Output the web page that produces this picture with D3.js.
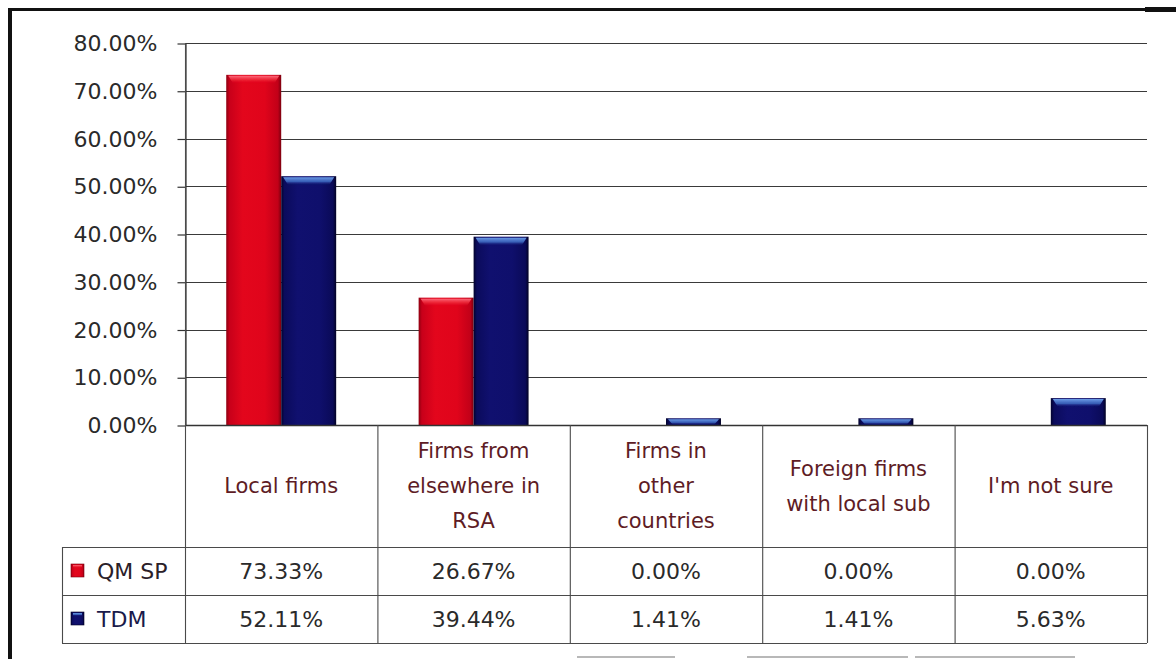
<!DOCTYPE html>
<html>
<head>
<meta charset="utf-8">
<script src="https://cdn.jsdelivr.net/npm/d3@7"></script>
<style>
  html, body { margin: 0; padding: 0; background: #fff; }
  svg { display: block; }
  text { font-family: "DejaVu Sans", sans-serif; }
</style>
</head>
<body>
<svg id="chart" width="1176" height="659"></svg>
<script>
// Where respondents' suppliers come from, by survey group
const categories = [
  ["Local firms"],
  ["Firms from", "elsewhere in", "RSA"],
  ["Firms in", "other", "countries"],
  ["Foreign firms", "with local sub"],
  ["I'm not sure"]
];
const seriesNames = ["QM SP", "TDM"];
const qmspValues = [73.33, 26.67, 0.00, 0.00, 0.00];
const tdmValues = [52.11, 39.44, 1.41, 1.41, 5.63];
const yTicks = [0, 10, 20, 30, 40, 50, 60, 70, 80];

const seriesValues = [qmspValues, tdmValues];
const svg = d3.select("#chart");

// Plot geometry
const plotLeft = 185, plotRight = 1147, plotTop = 43, plotBase = 425;
const headerBottom = 547, row1Bottom = 595, row2Bottom = 643, legendLeft = 62;

const x0 = d3.scaleBand().domain(d3.range(categories.length)).range([plotLeft, plotRight]).padding(0);
const x1 = d3.scaleBand().domain(seriesNames).range([0, x0.bandwidth()]).paddingInner(0).paddingOuter(0.75);
const y = d3.scaleLinear().domain([0, 80]).range([plotBase, plotTop]);

// Gradients for the bevelled bars
const defs = svg.append("defs");
function hGrad(id, stops) {
  const g = defs.append("linearGradient").attr("id", id).attr("x1", 0).attr("x2", 1).attr("y1", 0).attr("y2", 0);
  stops.forEach(s => g.append("stop").attr("offset", s[0]).attr("stop-color", s[1]));
}
function vGrad(id, stops) {
  const g = defs.append("linearGradient").attr("id", id).attr("x1", 0).attr("x2", 0).attr("y1", 0).attr("y2", 1);
  stops.forEach(s => g.append("stop").attr("offset", s[0]).attr("stop-color", s[1]).attr("stop-opacity", s[2] === undefined ? 1 : s[2]));
}
hGrad("redBody", [[0, "#8e0010"], [0.06, "#c8001a"], [0.3, "#e3061c"], [0.7, "#e0041b"], [0.94, "#c20018"], [1, "#7a000e"]]);
hGrad("blueBody", [[0, "#03032e"], [0.06, "#0b0b5c"], [0.3, "#10106f"], [0.7, "#0f0f6c"], [0.94, "#0a0a58"], [1, "#020224"]]);
vGrad("redTop", [[0, "#ff7080", 0.95], [0.5, "#f23040", 0.7], [1, "#e3061c", 0]]);
vGrad("blueTop", [[0, "#6b9be6", 1], [0.55, "#3f6cc4", 0.85], [1, "#10106f", 0]]);
const soft = defs.append("filter").attr("id", "soft").attr("x", "-10%").attr("y", "-10%").attr("width", "120%").attr("height", "120%");
soft.append("feGaussianBlur").attr("stdDeviation", 0.6);

const bodyFill = ["url(#redBody)", "url(#blueBody)"];
const topFill = ["url(#redTop)", "url(#blueTop)"];

// Outer frame
svg.append("rect").attr("x", 8).attr("y", 8).attr("width", 4).attr("height", 651).attr("fill", "#111");
svg.append("rect").attr("x", 8).attr("y", 8).attr("width", 1168).attr("height", 3).attr("fill", "#111");
svg.append("rect").attr("x", 1145).attr("y", 7).attr("width", 31).attr("height", 5).attr("fill", "#111");

// Gridlines
svg.append("g").selectAll("line").data(yTicks).join("line")
  .attr("x1", plotLeft).attr("x2", plotRight)
  .attr("y1", d => Math.round(y(d)) + 0.5).attr("y2", d => Math.round(y(d)) + 0.5)
  .attr("stroke", "#3a3a3a").attr("stroke-width", 1.2);

// Value axis
const yAxis = d3.axisLeft(y).tickValues(yTicks).tickFormat(d => d.toFixed(2) + "%")
  .tickSize(8).tickSizeOuter(0).tickPadding(20);
const ya = svg.append("g").attr("transform", `translate(${plotLeft + 0.5},0.5)`).call(yAxis);
ya.select(".domain").attr("stroke", "#333").attr("stroke-width", 1.2);
ya.selectAll(".tick line").attr("stroke", "#333").attr("stroke-width", 1.2);
ya.selectAll(".tick text").attr("font-family", "DejaVu Sans").attr("font-size", 22).attr("fill", "#2a2a2a");

// Bars
const groups = svg.append("g").selectAll("g").data(categories).join("g")
  .attr("transform", (d, i) => `translate(${x0(i)},0)`);
seriesNames.forEach((name, si) => {
  groups.each(function(d, i) {
    const v = seriesValues[si][i];
    if (v <= 0) return;
    const g = d3.select(this);
    const bx = x1(name), bw = x1.bandwidth();
    const by = y(v), bh = plotBase - by;
    g.append("rect").attr("x", bx).attr("y", by).attr("width", bw).attr("height", bh)
      .attr("fill", bodyFill[si]);
    // bevelled top highlight
    const hh = Math.min(9, bh);
    g.append("path")
      .attr("d", `M${bx + 2},${by + 1} L${bx + bw - 2},${by + 1} L${bx + bw - 7},${by + hh} L${bx + 7},${by + hh} Z`)
      .attr("fill", topFill[si]).attr("filter", "url(#soft)");
  });
});

// Data table grid
const gridColor = "#4a4a4a";
const tbl = svg.append("g").attr("stroke", gridColor).attr("stroke-width", 1.1);
tbl.append("line").attr("x1", plotLeft).attr("x2", plotRight).attr("y1", plotBase + 0.5).attr("y2", plotBase + 0.5).attr("stroke", "#333").attr("stroke-width", 1.4);
[headerBottom, row1Bottom, row2Bottom].forEach(yy =>
  tbl.append("line").attr("x1", legendLeft).attr("x2", plotRight).attr("y1", yy + 0.5).attr("y2", yy + 0.5));
d3.range(categories.length + 1).forEach(i => {
  const xx = i < categories.length ? x0(i) : plotRight;
  tbl.append("line").attr("x1", xx + 0.5).attr("x2", xx + 0.5).attr("y1", plotBase).attr("y2", row2Bottom);
});
tbl.append("line").attr("x1", plotLeft + 0.5).attr("x2", plotLeft + 0.5).attr("y1", plotTop).attr("y2", plotBase);
tbl.append("line").attr("x1", legendLeft + 0.5).attr("x2", legendLeft + 0.5).attr("y1", headerBottom).attr("y2", row2Bottom);

// Category headers
const headerMid = (plotBase + headerBottom) / 2;
const lineH = 35;
categories.forEach((lines, i) => {
  const cx = x0(i) + x0.bandwidth() / 2;
  const t = svg.append("text").attr("text-anchor", "middle").attr("font-size", 21).attr("fill", "#5e1c25");
  lines.forEach((ln, k) => {
    t.append("tspan").attr("x", cx)
      .attr("y", headerMid + (k - (lines.length - 1) / 2) * lineH)
      .attr("dy", "0.35em").text(ln);
  });
});

// Table rows: legend keys and values
const rowMids = [(headerBottom + row1Bottom) / 2, (row1Bottom + row2Bottom) / 2];
seriesNames.forEach((name, si) => {
  const cy = rowMids[si];
  svg.append("rect").attr("x", 71).attr("y", cy - 7).attr("width", 13).attr("height", 13)
    .attr("fill", bodyFill[si]).attr("stroke", si === 0 ? "#7a000e" : "#020224").attr("stroke-width", 0.6);
  svg.append("rect").attr("x", 73).attr("y", cy - 6).attr("width", 9).attr("height", 3)
    .attr("fill", topFill[si]);
  svg.append("text").attr("x", 97).attr("y", cy).attr("dy", "0.35em").attr("font-size", 22)
    .attr("fill", si === 0 ? "#2a2028" : "#1a1a4a").text(name);
  seriesValues[si].forEach((v, i) => {
    svg.append("text").attr("x", x0(i) + x0.bandwidth() / 2).attr("y", cy).attr("dy", "0.35em")
      .attr("text-anchor", "middle").attr("font-size", 22).attr("fill", "#2a2a2a")
      .text(v.toFixed(2) + "%");
  });
});

// Light rules along the bottom edge
[[577, 675], [747, 908], [915, 1075]].forEach(s =>
  svg.append("line").attr("x1", s[0]).attr("x2", s[1]).attr("y1", 657).attr("y2", 657)
    .attr("stroke", "#b8b8b8").attr("stroke-width", 2));
</script>
</body>
</html>
